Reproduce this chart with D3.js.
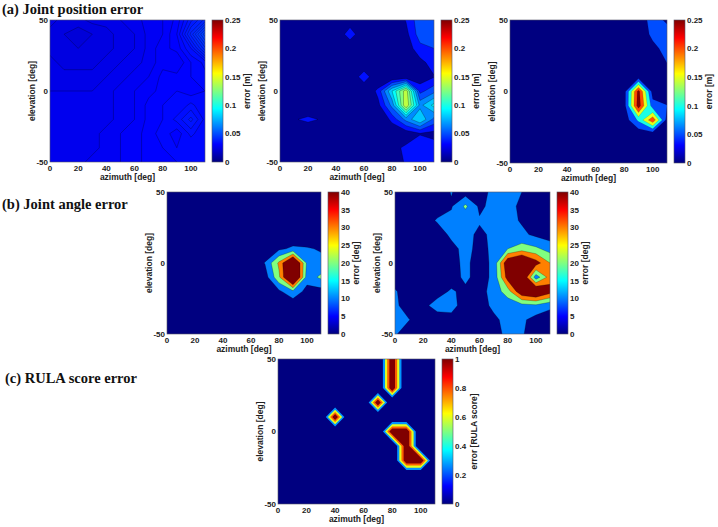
<!DOCTYPE html>
<html>
<head>
<meta charset="utf-8">
<script src="https://cdn.jsdelivr.net/npm/d3@7"></script>
<style>
body { margin: 0; background: #fff; }
svg { display: block; }
</style>
</head>
<body>
<script>
// grid axes (contour data sampled every 10 deg)
var azimuth = [0, 10, 20, 30, 40, 50, 60, 70, 80, 90, 100, 110];
var elevation = [50, 40, 30, 20, 10, 0, -10, -20, -30, -40, -50];   // rows, top to bottom

var azTicks = [0, 20, 40, 60, 80, 100];
var elTicks = [-50, 0, 50];
var posTicks = [0, 0.05, 0.1, 0.15, 0.2, 0.25];
var angTicks = [0, 5, 10, 15, 20, 25, 30, 35, 40];
var rulaTicks = [0, 0.2, 0.4, 0.6, 0.8, 1];

// (a) joint position error [m], three setups
var posErr1 = [
  [0.026,0.025,0.025,0.026,0.026,0.027,0.028,0.029,0.030,0.032,0.037,0.041],
  [0.025,0.024,0.023,0.024,0.025,0.026,0.027,0.029,0.030,0.033,0.041,0.049],
  [0.025,0.025,0.024,0.025,0.025,0.026,0.027,0.029,0.031,0.032,0.036,0.043],
  [0.026,0.025,0.025,0.025,0.026,0.027,0.028,0.029,0.031,0.030,0.033,0.035],
  [0.026,0.026,0.026,0.026,0.027,0.028,0.029,0.030,0.032,0.032,0.033,0.034],
  [0.027,0.027,0.027,0.027,0.028,0.029,0.030,0.031,0.032,0.033,0.032,0.033],
  [0.027,0.027,0.027,0.028,0.028,0.029,0.030,0.032,0.033,0.033,0.035,0.033],
  [0.027,0.027,0.027,0.028,0.028,0.029,0.030,0.032,0.033,0.035,0.038,0.034],
  [0.027,0.027,0.027,0.028,0.029,0.030,0.031,0.032,0.034,0.032,0.035,0.033],
  [0.028,0.028,0.028,0.028,0.029,0.030,0.031,0.032,0.033,0.033,0.033,0.033],
  [0.028,0.028,0.028,0.029,0.029,0.030,0.031,0.032,0.032,0.033,0.033,0.033]
];
var posErr2 = [
  [0.015,0.015,0.015,0.015,0.015,0.020,0.015,0.015,0.020,0.036,0.060,0.058],
  [0.015,0.015,0.015,0.015,0.015,0.048,0.015,0.015,0.018,0.030,0.058,0.055],
  [0.015,0.015,0.015,0.015,0.015,0.015,0.015,0.015,0.015,0.025,0.045,0.050],
  [0.015,0.015,0.015,0.015,0.015,0.015,0.015,0.015,0.015,0.020,0.030,0.042],
  [0.015,0.015,0.015,0.015,0.015,0.015,0.048,0.015,0.018,0.020,0.025,0.034],
  [0.015,0.015,0.015,0.015,0.015,0.015,0.015,0.040,0.095,0.150,0.045,0.060],
  [0.015,0.015,0.015,0.015,0.015,0.015,0.015,0.030,0.070,0.155,0.075,0.100],
  [0.015,0.033,0.040,0.033,0.015,0.015,0.015,0.015,0.040,0.070,0.095,0.060],
  [0.015,0.015,0.015,0.015,0.015,0.015,0.015,0.015,0.020,0.025,0.034,0.030],
  [0.015,0.015,0.015,0.015,0.015,0.015,0.015,0.015,0.030,0.038,0.044,0.042],
  [0.015,0.015,0.015,0.015,0.015,0.015,0.015,0.015,0.025,0.037,0.042,0.042]
];
var posErr3 = [
  [0.01,0.01,0.01,0.01,0.01,0.01,0.01,0.01,0.01,0.020,0.070,0.042],
  [0.01,0.01,0.01,0.01,0.01,0.01,0.01,0.01,0.01,0.020,0.060,0.070],
  [0.01,0.01,0.01,0.01,0.01,0.01,0.01,0.01,0.01,0.015,0.038,0.065],
  [0.01,0.01,0.01,0.01,0.01,0.01,0.01,0.01,0.01,0.015,0.020,0.050],
  [0.01,0.01,0.01,0.01,0.01,0.01,0.01,0.01,0.01,0.027,0.020,0.020],
  [0.01,0.01,0.01,0.01,0.01,0.01,0.01,0.01,0.027,0.270,0.027,0.020],
  [0.01,0.01,0.01,0.01,0.01,0.01,0.01,0.01,0.027,0.280,0.070,0.052],
  [0.01,0.01,0.01,0.01,0.01,0.01,0.01,0.01,0.020,0.110,0.240,0.030],
  [0.01,0.01,0.01,0.01,0.01,0.01,0.01,0.01,0.01,0.010,0.010,0.010],
  [0.01,0.01,0.01,0.01,0.01,0.01,0.01,0.01,0.01,0.010,0.010,0.010],
  [0.01,0.01,0.01,0.01,0.01,0.01,0.01,0.01,0.01,0.010,0.010,0.010]
];

// (b) joint angle error [deg]
var angErr1 = [
  [2,2,2,2,2,2,2,2,2,2,2,2],
  [2,2,2,2,2,2,2,2,2,2,2,2],
  [2,2,2,2,2,2,2,2,2,2,2,2],
  [2,2,2,2,2,2,2,2,2,2,2,2],
  [2,2,2,2,2,2,2,4,8,12,11,9],
  [2,2,2,2,2,2,2,10.5,32,62,18,13],
  [2,2,2,2,2,2,2,5,28,65,15,22],
  [2,2,2,2,2,2,2,2,8,18,6,6],
  [2,2,2,2,2,2,2,2,2,2,2,2],
  [2,2,2,2,2,2,2,2,2,2,2,2],
  [2,2,2,2,2,2,2,2,2,2,2,2]
];
var angErr2 = [
  [5,5,5,5,10.5,5,7,12,12,10,5,5],
  [5,5,5,5,9,22,8,13,13,8,5,5],
  [5,5,5,11,13,13,11,13,13,9,5,5],
  [5,5,5,5,12,13,8,12,14,12,8,5],
  [5,5,5,5,7,13,7,12,20,25,22,16],
  [5,5,5,5,7,12,6,12,50,60,45,30],
  [5,5,5,5,6,12,6,12,45,55,14,35],
  [11,5,5,7,11,8,6,14,25,50,55,45],
  [12,5,8,13,13,6,6,12,14,16,18,12],
  [10.5,10.3,5,6,7,5,5,8,13,12,6,5],
  [11,5,5,5,5,5,5,7,12,11,5,5]
];

// (c) RULA score error
var rulaErr = [
  [0,0,0,0,0,0,0,0,1,0,0,0],
  [0,0,0,0,0,0,0,0,1,0,0,0],
  [0,0,0,0,0,0,0,0,1,0,0,0],
  [0,0,0,0,0,0,0,1,0,0,0,0],
  [0,0,0,0,1,0,0,0,0,0,0,0],
  [0,0,0,0,0,0,0,0,1,1,0,0],
  [0,0,0,0,0,0,0,0,0,1,0,0],
  [0,0,0,0,0,0,0,0,0,1,1,0],
  [0,0,0,0,0,0,0,0,0,0,0,0],
  [0,0,0,0,0,0,0,0,0,0,0,0],
  [0,0,0,0,0,0,0,0,0,0,0,0]
];

// contour levels per panel
var posLevels1 = [0.024,0.0255,0.027,0.0285,0.030,0.0315,0.033,0.0345,0.036,0.0375,0.039,0.0405,0.042,0.0435,0.045,0.0465,0.048];
var posLevels2 = [0.035,0.05,0.065,0.08,0.095,0.11,0.125,0.14];
var posLevels3 = [0.05,0.1,0.15,0.2,0.25];
var angLevels = [10,20,30,40];
var rulaLevels = [0.35,0.5,0.65,0.8];
var rulaBandColors = [0.27,0.6,0.78,1.0];   // colormap position used for each RULA band

var W = 718, H = 527;

var svg = d3.select("body").append("svg")
            .attr("width", W)
            .attr("height", H);
var defs = svg.append("defs");

// matlab style jet colormap
function jet(t) {
    t = Math.max(0, Math.min(1, t));
    var c = function (v) { return Math.max(0, Math.min(1, v)) * 255; };
    return d3.rgb(c(1.5 - Math.abs(4*t - 3)), c(1.5 - Math.abs(4*t - 2)), c(1.5 - Math.abs(4*t - 1)));
}

var grad = defs.append("linearGradient")
               .attr("id", "jetgrad")
               .attr("x1", 0).attr("y1", 1)
               .attr("x2", 0).attr("y2", 0);
d3.range(0, 65).forEach(function (i) {
    grad.append("stop").attr("offset", i/64).attr("stop-color", jet(i/64));
});

var tickFont = "'Liberation Sans', Arial, sans-serif";
var titleFont = "'Liberation Serif', 'Times New Roman', serif";

var panels = [
  {grid: posErr1, levels: posLevels1, cmax: 0.25, floor: 0.022, x: 50,  y: 20,  w: 155, h: 142, ticks: posTicks,  label: "error [m]",  labOff: 27, line: 0.45},
  {grid: posErr2, levels: posLevels2, cmax: 0.25, floor: 0.004, x: 280, y: 20,  w: 154, h: 142, ticks: posTicks,  label: "error [m]",  labOff: 27, line: 0.45},
  {grid: posErr3, levels: posLevels3, cmax: 0.25, floor: 0,     x: 510, y: 20,  w: 157, h: 143, ticks: posTicks,  label: "error [m]",  labOff: 27, line: 0.2},
  {grid: angErr1, levels: angLevels,  cmax: 40,   floor: 0,     x: 167, y: 192, w: 154, h: 142, ticks: angTicks,  label: "error [deg]", labOff: 20, line: 0.4},
  {grid: angErr2, levels: angLevels,  cmax: 40,   floor: 0,     x: 395, y: 192, w: 155, h: 142, ticks: angTicks,  label: "error [deg]", labOff: 20, line: 0.4},
  {grid: rulaErr, levels: rulaLevels, cmax: 1,    floor: 0,     x: 278, y: 359, w: 157, h: 145, ticks: rulaTicks, label: "error [RULA score]", labOff: 24, line: 0, bandColors: rulaBandColors}
];

function drawPanel(p, idx) {
    var x = d3.scaleLinear().domain([0, 110]).range([p.x, p.x + p.w]);
    var y = d3.scaleLinear().domain([-50, 50]).range([p.y + p.h, p.y]);
    // d3.contours puts grid sample i at i + 0.5
    var gx = d3.scaleLinear().domain([0.5, azimuth.length - 0.5])
               .range([x(azimuth[0]), x(azimuth[azimuth.length - 1])]);
    var gy = d3.scaleLinear().domain([0.5, elevation.length - 0.5])
               .range([y(elevation[0]), y(elevation[elevation.length - 1])]);

    defs.append("clipPath").attr("id", "clip" + idx)
        .append("rect")
        .attr("x", p.x).attr("y", p.y).attr("width", p.w).attr("height", p.h);

    var g = svg.append("g").attr("clip-path", "url(#clip" + idx + ")");

    g.append("rect")
     .attr("x", p.x).attr("y", p.y).attr("width", p.w).attr("height", p.h)
     .attr("fill", jet(p.floor / p.cmax));

    var bands = d3.contours()
                  .size([azimuth.length, elevation.length])
                  .thresholds(p.levels)(p.grid.flat());

    var path = d3.geoPath(d3.geoTransform({
        point: function (px, py) { this.stream.point(gx(px), gy(py)); }
    }));

    g.selectAll("path.band")
     .data(bands)
     .enter()
     .append("path")
     .attr("class", "band")
     .attr("d", path)
     .attr("fill", function (d, i) {
         return jet(p.bandColors ? p.bandColors[i] : d.value / p.cmax);
     })
     .attr("stroke", "#000")
     .attr("stroke-opacity", p.line)
     .attr("stroke-width", 0.6)
     .attr("stroke-linejoin", "round");

    svg.append("rect")
       .attr("x", p.x).attr("y", p.y).attr("width", p.w).attr("height", p.h)
       .attr("fill", "none").attr("stroke", "#556").attr("stroke-width", 0.6);

    // axes text
    svg.append("g").selectAll("text")
       .data(azTicks).enter().append("text")
       .attr("x", function (d) { return x(d); })
       .attr("y", p.y + p.h + 9)
       .attr("text-anchor", "middle")
       .style("font", "bold 8px " + tickFont).attr("fill", "#222")
       .text(function (d) { return d; });

    svg.append("g").selectAll("text")
       .data(elTicks).enter().append("text")
       .attr("x", p.x - 2)
       .attr("y", function (d) { return y(d); })
       .attr("dy", "0.35em")
       .attr("text-anchor", "end")
       .style("font", "bold 8px " + tickFont).attr("fill", "#222")
       .text(function (d) { return d; });

    svg.append("text")
       .attr("x", p.x + p.w / 2).attr("y", p.y + p.h + 18)
       .attr("text-anchor", "middle")
       .style("font", "bold 8.5px " + tickFont).attr("fill", "#222")
       .text("azimuth [deg]");

    svg.append("text")
       .attr("transform", "translate(" + (p.x - 15) + "," + (p.y + p.h / 2) + ") rotate(-90)")
       .attr("text-anchor", "middle")
       .style("font", "bold 8.5px " + tickFont).attr("fill", "#222")
       .text("elevation [deg]");

    // colorbar
    var cbx = p.x + p.w + 7, cbw = 11;
    var cy = d3.scaleLinear().domain([0, p.cmax]).range([p.y + p.h, p.y]);
    svg.append("rect")
       .attr("x", cbx).attr("y", p.y).attr("width", cbw).attr("height", p.h)
       .attr("fill", "url(#jetgrad)")
       .attr("stroke", "#556").attr("stroke-width", 0.6);

    svg.append("g").selectAll("text")
       .data(p.ticks).enter().append("text")
       .attr("x", cbx + cbw + 2)
       .attr("y", function (d) { return cy(d); })
       .attr("dy", "0.35em")
       .style("font", "bold 8px " + tickFont).attr("fill", "#222")
       .text(function (d) { return d; });

    svg.append("text")
       .attr("transform", "translate(" + (cbx + cbw + p.labOff) + "," + (p.y + p.h / 2) + ") rotate(-90)")
       .attr("text-anchor", "middle")
       .style("font", "bold 8.5px " + tickFont).attr("fill", "#222")
       .text(p.label);
}

panels.forEach(drawPanel);

// row titles
var titles = [
  {t: "(a) Joint position error", x: 2, y: 14},
  {t: "(b) Joint angle error",    x: 2, y: 209},
  {t: "(c) RULA score error",     x: 5, y: 383}
];
svg.selectAll("text.rowtitle")
   .data(titles).enter().append("text")
   .attr("class", "rowtitle")
   .attr("x", function (d) { return d.x; })
   .attr("y", function (d) { return d.y; })
   .style("font", "bold 14.5px " + titleFont).attr("fill", "#111")
   .text(function (d) { return d.t; });
</script>
</body>
</html>
